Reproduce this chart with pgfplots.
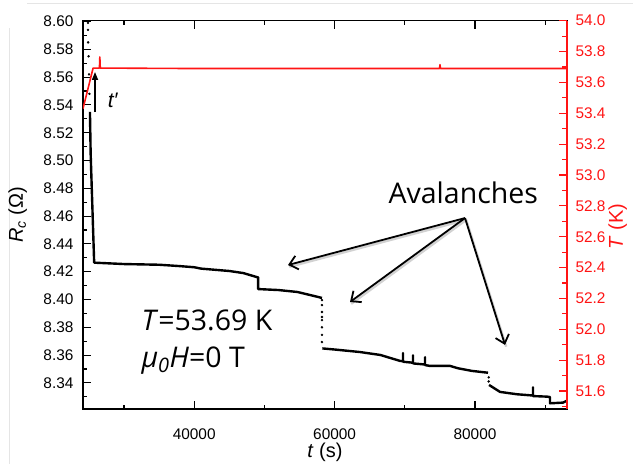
\documentclass[border=0pt]{standalone}
\usepackage{fontspec}
\setmainfont{Liberation Sans}
\newfontfamily\annfont{Open Sans}
\usepackage{pgfplots}
\pgfplotsset{compat=1.18}
\usetikzlibrary{arrows.meta}
\definecolor{tred}{RGB}{255,20,20}

\begin{document}
\begin{tikzpicture}
\useasboundingbox (-83pt,-55pt) rectangle (550pt,409pt);
% screenshot frame lines
\draw[gray!20, line width=0.8pt] (-74pt,-55pt) -- (-74pt,381pt);
\draw[gray!20, line width=0.8pt] (-56pt,406pt) -- (550pt,406pt);

\begin{axis}[
  scale only axis, width=484pt, height=388.3pt,
  xmin=24160, xmax=93100,
  ymin=8.3212, ymax=8.6006,
  /pgf/number format/assume math mode=true,
  tick label style={font=\fontsize{15.4}{18}\selectfont},
  label style={font=\fontsize{20}{24}\selectfont},
  axis line style={line width=1.1pt},
  tick style={line width=1.1pt, black},
  major tick length=8pt, minor tick length=4.5pt,
  tick align=inside,
  ytick pos=left,
  scaled x ticks=false,
  xtick={40000,60000,80000},
  minor xtick={30000,50000,70000,90000},
  ytick={8.34,8.36,8.38,8.40,8.42,8.44,8.46,8.48,8.50,8.52,8.54,8.56,8.58,8.60},
  minor ytick={8.33,8.35,8.37,8.39,8.41,8.43,8.45,8.47,8.49,8.51,8.53,8.55,8.57,8.59},
  xticklabel style={/pgf/number format/set thousands separator={}, yshift=-16pt},
  yticklabel style={/pgf/number format/fixed, /pgf/number format/fixed zerofill,
    /pgf/number format/precision=2, xshift=-6pt},
  xlabel={\textit{t} (s)},
  xlabel style={at={(axis description cs:0.5,-0.112)}, anchor=center},
  ylabel={\textit{R}\textsubscript{\textit{c}} (Ω)},
  ylabel style={at={(axis description cs:-0.135,0.5)}, anchor=center},
]
% initial drop (sparse points)
\addplot[black, only marks, mark=*, mark size=1pt] coordinates {
  (24870,8.599)(24870,8.594)(24890,8.585)(24950,8.575)(25020,8.562)(25080,8.548)
};
\addplot[black, line width=2.4pt, line join=round] coordinates {
  (25150,8.535)(25250,8.505)(25750,8.4265)
  (30000,8.4255)(35000,8.4250)(38000,8.4240)(40000,8.4232)(41000,8.4222)
  (45000,8.4205)(47000,8.4190)(49000,8.4160)(49100,8.4160)
  (49100,8.4075)(52000,8.4068)(54700,8.4054)(57500,8.4020)(58200,8.4011)
};
% avalanches (sparse points)
\addplot[black, only marks, mark=*, mark size=1pt] coordinates {
  (58200,8.3996)(58200,8.3960)(58200,8.3910)(58200,8.3874)(58200,8.3852)
  (58200,8.3800)(58200,8.3745)(58200,8.3694)
  (81950,8.3440)(81950,8.3410)
};
\addplot[black, line width=2.4pt, line join=round] coordinates {
  (58250,8.3648)(60000,8.3640)(63600,8.3622)(66500,8.3601)(69320,8.3558)
  (69745,8.3556)(69745,8.3615)(69745,8.3552)
  (71170,8.3545)(71170,8.3598)(71170,8.3540)
  (72880,8.3532)(72880,8.3585)(72880,8.3528)
  (73590,8.3522)(76440,8.3522)(77580,8.3505)(79570,8.3486)(81850,8.3473)
};
\addplot[black, line width=2.4pt, line join=round] coordinates {
  (82000,8.3385)(83560,8.3335)(85980,8.3318)(88260,8.3309)
  (88260,8.3368)(88260,8.3305)(90260,8.3301)(90680,8.3298)
  (90680,8.3253)(92540,8.3258)(93000,8.3270)
};
% t' marker
\draw[-{Triangle[length=8pt,width=6pt]}, line width=1.6pt]
  (axis cs:25870,8.5349) -- (axis cs:25870,8.5637);
\node[font=\fontsize{21}{24}\selectfont\itshape] at (axis cs:28400,8.5435) {t′};
% annotations
\node[anchor=base west, font=\annfont\fontsize{28.5}{34}\selectfont]
  at (axis cs:32000,8.378) {\textit{T}=53.69 K};
\node[anchor=base west, font=\annfont\fontsize{28.5}{34}\selectfont]
  at (axis cs:32000,8.3514) {\textit{μ\textsubscript{0}H}=0 T};
\node[anchor=base west, font=\annfont\fontsize{28.5}{34}\selectfont]
  at (axis cs:67180,8.4694) {Avalanches};
\begin{scope}[line width=2.4pt, gray!35, shift={(1.2pt,-1.8pt)}]
\draw (axis cs:78576,8.4586) -- (axis cs:53362,8.4248);
\draw (axis cs:78576,8.4586) -- (axis cs:62194,8.3982);
\draw (axis cs:78576,8.4586) -- (axis cs:84274,8.3673);
\end{scope}
\begin{scope}[line width=1.8pt, -{Straight Barb[length=8pt,width=14pt]}]
\draw (axis cs:78576,8.4586) -- (axis cs:53362,8.4248);
\draw (axis cs:78576,8.4586) -- (axis cs:62194,8.3982);
\draw (axis cs:78576,8.4586) -- (axis cs:84274,8.3673);
\end{scope}
\end{axis}

\begin{axis}[
  scale only axis, width=484pt, height=388.3pt,
  xmin=24160, xmax=93100,
  ymin=51.4835, ymax=54.0,
  axis y line*=right, axis x line=none,
  /pgf/number format/assume math mode=true,
  tick label style={font=\fontsize{15.4}{18}\selectfont},
  label style={font=\fontsize{20}{24}\selectfont},
  y axis line style={tred, line width=1.1pt},
  ytick style={tred, line width=1.1pt},
  major tick length=8pt, minor tick length=4.5pt,
  tick align=inside,
  ytick={51.6,51.8,52.0,52.2,52.4,52.6,52.8,53.0,53.2,53.4,53.6,53.8,54.0},
  minor ytick={51.5,51.7,51.9,52.1,52.3,52.5,52.7,52.9,53.1,53.3,53.5,53.7,53.9},
  yticklabel style={tred, /pgf/number format/fixed, /pgf/number format/fixed zerofill,
    /pgf/number format/precision=1, xshift=5pt},
  ylabel={\textit{T} (K)},
  ylabel style={tred, at={(axis description cs:1.105,0.47)}, anchor=center},
]
\addplot[tred, line width=1.6pt, line join=round] coordinates {
  (24160,53.43)(25600,53.693)(26500,53.693)(26560,53.765)(26620,53.693)
  (40000,53.690)(60000,53.690)(74950,53.690)(75010,53.715)(75070,53.690)
  (93100,53.690)
};
\end{axis}
\end{tikzpicture}
\end{document}
